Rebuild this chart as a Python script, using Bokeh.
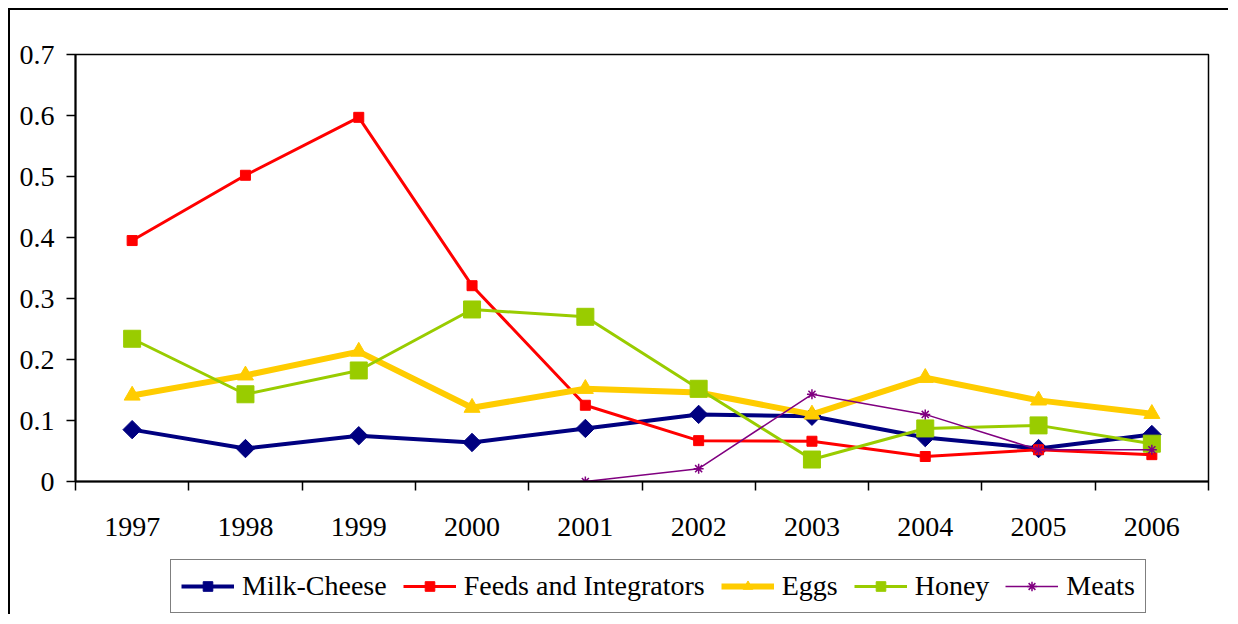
import numpy as np
from bokeh.plotting import figure
from bokeh.layouts import column
from bokeh.models import FixedTicker, Legend, LegendItem, Range1d
from bokeh.embed import file_html
from bokeh.resources import INLINE

years = ["1997", "1998", "1999", "2000", "2001", "2002", "2003", "2004", "2005", "2006"]
milk_cheese = [0.085, 0.054, 0.075, 0.064, 0.087, 0.110, 0.107, 0.072, 0.054, 0.077]
feeds = [0.395, 0.502, 0.597, 0.321, 0.125, 0.067, 0.066, 0.041, 0.052, 0.044]
eggs = [0.141, 0.174, 0.213, 0.121, 0.152, 0.146, 0.110, 0.170, 0.133, 0.111]
honey = [0.234, 0.143, 0.182, 0.282, 0.270, 0.152, 0.036, 0.087, 0.092, 0.062]
meats = [None, None, None, None, 0.0, 0.021, 0.143, 0.110, 0.052, 0.052]
y_ticks = [0, 0.1, 0.2, 0.3, 0.4, 0.5, 0.6, 0.7]

FONT = "Liberation Serif"

n = len(years)
xs = np.arange(n) + 0.5

p = figure(width=1220, height=550, output_backend="svg", toolbar_location=None,
           x_range=Range1d(0, n), y_range=Range1d(0, 0.7),
           min_border_left=65, min_border_right=22, min_border_top=44, min_border_bottom=79)
p.styles = {"border-left": "2px solid black", "border-top": "2px solid black",
            "margin-left": "8px", "margin-top": "8px"}
p.xgrid.visible = False
p.ygrid.visible = False
p.outline_line_color = "black"
p.outline_line_width = 1.5
p.background_fill_color = "white"
p.border_fill_color = "white"

# x axis: labels at category centres, tick marks at boundaries
xa = p.xaxis[0]
xa.ticker = FixedTicker(ticks=list(xs), minor_ticks=list(range(n + 1)))
xa.major_label_overrides = {float(x): y for x, y in zip(xs, years)}
xa.major_tick_line_color = None
xa.major_tick_out = 0
xa.major_tick_in = 0
xa.minor_tick_out = 9
xa.minor_tick_in = 0
xa.minor_tick_line_color = "black"
xa.minor_tick_line_width = 1.5
xa.axis_line_width = 2
xa.axis_line_color = "black"
xa.major_label_text_font = FONT
xa.major_label_text_font_size = "28px"
xa.major_label_text_color = "black"
xa.major_label_standoff = 27

ya = p.yaxis[0]
ya.ticker = FixedTicker(ticks=y_ticks, minor_ticks=[])
ya.major_label_overrides = {0: "0"}
ya.major_tick_out = 9
ya.major_tick_in = 0
ya.major_tick_line_width = 1.5
ya.minor_tick_line_color = None
ya.axis_line_width = 2
ya.major_label_text_font = FONT
ya.major_label_text_font_size = "28px"
ya.major_label_text_color = "black"
ya.major_label_standoff = 12

series = [
    ("Milk-Cheese", milk_cheese, "#000080", 4, dict(marker="square", angle=np.pi / 4, size=13)),
    ("Feeds and Integrators", feeds, "#FF0000", 3, dict(marker="square", size=10)),
    ("Eggs", eggs, "#FFCC00", 6, dict(marker="triangle", size=16)),
    ("Honey", honey, "#99CC00", 3, dict(marker="square", size=17)),
    ("Meats", meats, "#800080", 1.5, dict(marker="asterisk", size=10, line_width=1.5)),
]

# legend strip: a second, axis-less figure under the chart (its data lies out of view)
p2 = figure(width=1220, height=56, output_backend="svg", toolbar_location=None,
            x_range=Range1d(0, n), y_range=Range1d(5, 6),
            min_border_left=0, min_border_right=0, min_border_top=0, min_border_bottom=0)
p2.styles = {"border-left": "2px solid black", "margin-left": "8px"}
p2.axis.visible = False
p2.xgrid.visible = False
p2.ygrid.visible = False
p2.outline_line_color = None
p2.background_fill_color = "white"
p2.border_fill_color = "white"

items = []
for label, vals, color, lw, mk in series:
    yv = np.array([np.nan if v is None else v for v in vals], dtype=float)
    p.line(xs, yv, line_color=color, line_width=lw)
    p.scatter(xs, yv, fill_color=color, line_color=color, **mk)
    l1 = p2.line(xs, yv, line_color=color, line_width=lw)
    l2 = p2.scatter(xs, yv, fill_color=color, line_color=color, **mk)
    items.append(LegendItem(label=label, renderers=[l1, l2]))

legend = Legend(items=items, orientation="horizontal", location=(95, 1),
                label_text_font=FONT, label_text_font_size="28px", label_text_color="black",
                glyph_width=53, glyph_height=24, label_standoff=8, spacing=16,
                padding=10, margin=0, border_line_color="black", border_line_width=1,
                background_fill_color="white", background_fill_alpha=1)
p2.add_layout(legend, "center")

layout = column(p, p2, spacing=0)
open("out.html", "w").write(file_html(layout, INLINE))
